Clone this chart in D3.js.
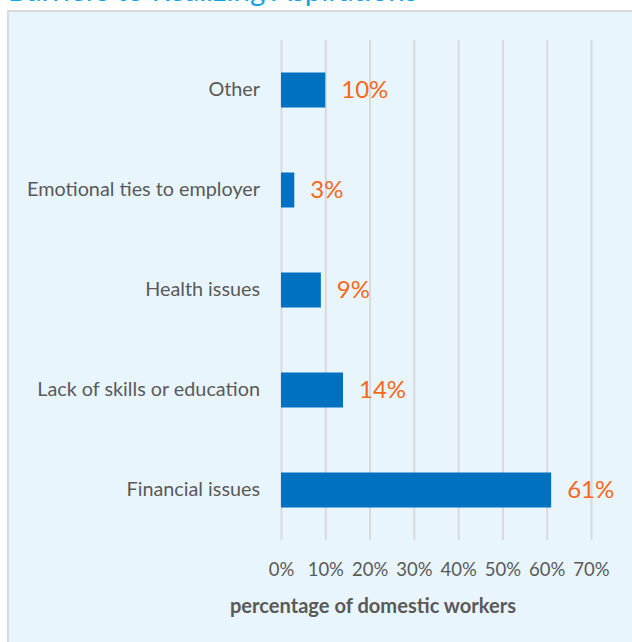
<!DOCTYPE html>
<html lang="en">
<head>
    <meta charset="UTF-8">
    <title>Barriers to Realizing Aspirations</title>
    <script src="https://d3js.org/d3.v7.min.js"></script>
    <style>
        body { margin: 0; background: #ffffff; }
        svg { display: block; }
        svg text { font-family: Lato, "Open Sans", sans-serif !important; }
        .grid line { stroke: #d9d9d9; stroke-width: 2; }
        .grid path { display: none; }
        .cat text { fill: #595959; font-size: 19.8px; }
        .xax text { fill: #595959; font-size: 18.5px; }
        .val { fill: #f8671a; font-size: 24px; }
    </style>
</head>
<body>
    <svg width="632" height="642"></svg>
    <script>
        const categories = ["Other", "Emotional ties to employer", "Health issues", "Lack of skills or education", "Financial issues"];
        const values = [10, 3, 9, 14, 61];
        const xTicks = [0, 10, 20, 30, 40, 50, 60, 70];

        const svg = d3.select("svg");

        // panel behind the chart, runs off the right and bottom edges
        svg.append("rect")
            .attr("x", 8).attr("y", 11)
            .attr("width", 640).attr("height", 650)
            .attr("fill", "#e9f5fd")
            .attr("stroke", "#d9d9d9")
            .attr("stroke-width", 2);

        // title is clipped by the top edge in the original too
        svg.append("text")
            .attr("x", 8).attr("y", 1)
            .attr("fill", "#12a3e3")
            .attr("font-size", 29.5)
            .text("Barriers to Realizing Aspirations");

        const x = d3.scaleLinear().domain([0, 70]).range([281, 591]);
        const y = d3.scaleBand().domain(categories).range([40, 540]).paddingInner(0.65).paddingOuter(0.325);

        svg.append("g")
            .attr("class", "grid")
            .attr("transform", "translate(0,40)")
            .call(d3.axisBottom(x).tickValues(xTicks).tickSize(500).tickFormat(""));

        svg.append("g")
            .selectAll("rect")
            .data(values)
            .join("rect")
            .attr("x", x(0))
            .attr("y", (d, i) => y(categories[i]))
            .attr("width", d => x(d) - x(0))
            .attr("height", y.bandwidth())
            .attr("fill", "#0070c0");

        svg.append("g")
            .selectAll("text")
            .data(values)
            .join("text")
            .attr("class", "val")
            .attr("x", d => x(d) + 16)
            .attr("y", (d, i) => y(categories[i]) + y.bandwidth() / 2)
            .attr("dy", "0.35em")
            .text(d => d + "%");

        const yAxis = svg.append("g")
            .attr("class", "cat")
            .attr("transform", "translate(260,0)")
            .call(d3.axisLeft(y).tickSize(0).tickPadding(0));
        yAxis.select(".domain").remove();

        const xAxis = svg.append("g")
            .attr("class", "xax")
            .attr("transform", "translate(0,560)")
            .call(d3.axisBottom(x).tickValues(xTicks).tickSize(0).tickFormat(d => d + "%"));
        xAxis.select(".domain").remove();

        svg.append("text")
            .attr("x", 373).attr("y", 613)
            .attr("text-anchor", "middle")
            .attr("fill", "#595959")
            .attr("font-size", 20.1)
            .attr("font-weight", "bold")
            .text("percentage of domestic workers");
    </script>
</body>
</html>
